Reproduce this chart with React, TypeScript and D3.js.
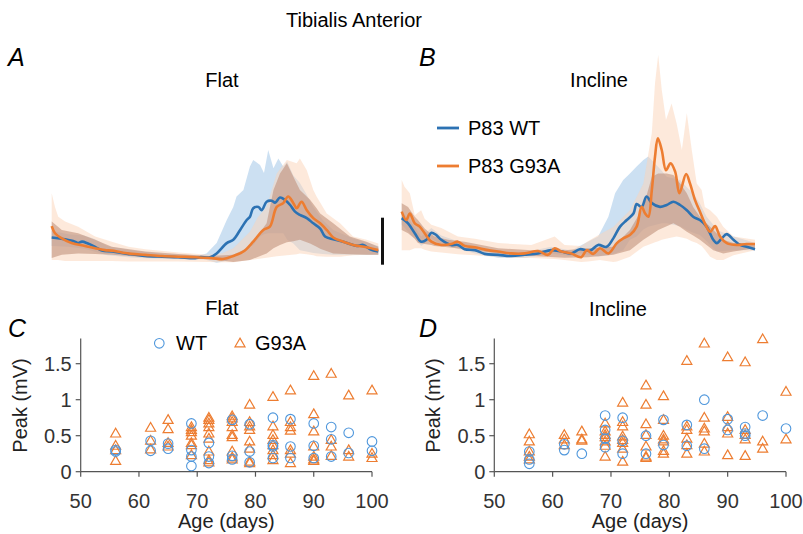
import React from "react";
import * as d3 from "d3";

type P = [number, number];
type B = [number, number, number];

// ---------- Top traces: [step-cycle %, amplitude (scale-bar units)] ----------
const flatWTMean: P[] = [
  [0, 0.48], [4.1, 0.44], [7.1, 0.39], [8, 0.36], [9.3, 0.39], [11.1, 0.35], [13.3, 0.28], [15.4, 0.2],
  [18.5, 0.18], [23.3, 0.13], [28.6, 0.085], [33.8, 0.07], [38.7, 0.06], [43.9, 0.04], [45.4, 0.06],
  [48.5, 0.06], [50.5, 0.14], [53.6, 0.36], [55.6, 0.43], [57.7, 0.64], [59.7, 0.85], [60.7, 0.92],
  [61.7, 1.1], [63.3, 1.13], [64.3, 1.06], [65.8, 1.24], [67.4, 1.26], [68.4, 1.22], [69.9, 1.33],
  [71.4, 1.28], [73, 1.17], [74.5, 1.03], [76, 0.96], [78.1, 0.89], [80.1, 0.78], [82.2, 0.67],
  [83.7, 0.5], [86.2, 0.44], [89.3, 0.39], [91.3, 0.34], [93.4, 0.3], [95.4, 0.32], [97.5, 0.23], [100, 0.18],
];
const flatG93AMean: P[] = [
  [0, 0.72], [1, 0.57], [3.1, 0.46], [6.1, 0.36], [10.2, 0.3], [13.3, 0.25], [16.3, 0.21], [18.4, 0.2],
  [21.4, 0.16], [24.5, 0.13], [28.6, 0.11], [33.7, 0.085], [38.8, 0.07], [43.9, 0.06], [49, 0.04],
  [52.5, 0.02], [55.6, 0.085], [58.7, 0.18], [61.7, 0.39], [64.8, 0.64], [66.8, 0.71], [68.9, 1.13],
  [70.9, 1.21], [72.4, 1.35], [74, 1.21], [75, 1.1], [76.5, 1.24], [78.1, 1.06], [80.1, 0.89],
  [82.2, 0.78], [84.2, 0.64], [86.2, 0.48], [89.3, 0.39], [92.3, 0.32], [96.4, 0.27], [100, 0.21],
];
const flatWTBand: B[] = [
  [0, 0.3, 0.62], [5, 0.28, 0.55], [10, 0.24, 0.52], [13, 0.18, 0.45], [17, 0.1, 0.3], [25, 0.05, 0.2],
  [35, 0.02, 0.12], [45.4, 0.01, 0.1], [47.4, 0, 0.14], [50.5, -0.06, 0.36], [53.6, -0.02, 0.85],
  [55.6, 0.07, 1.13], [56.6, 0.1, 1.35], [58.7, 0.18, 1.49], [60.7, 0.28, 1.99], [61.7, 0.32, 2.13],
  [63.8, 0.5, 2.02], [65, 0.55, 1.85], [66.3, 0.57, 2.34], [67.9, 0.57, 1.95], [69.4, 0.57, 2.16],
  [70.9, 0.57, 1.99], [72.1, 0.43, 2.09], [74, 0.35, 1.8], [76, 0.21, 1.64], [78, 0.18, 1.4],
  [80.1, 0.15, 1.13], [83, 0.13, 0.85], [86.2, 0.11, 0.64], [92.3, 0.11, 0.46], [100, 0.11, 0.3],
];
const flatG93AOuter: B[] = [
  [0, 0, 1.42], [1, 0, 1.13], [2, 0, 0.92], [4.1, -0.02, 0.82], [8.1, -0.02, 0.71], [13.3, -0.02, 0.5],
  [18.4, -0.02, 0.39], [23.5, -0.03, 0.28], [28.6, -0.03, 0.23], [38.8, -0.03, 0.16], [48, -0.04, 0.11],
  [52, -0.05, 0.14], [55.6, -0.05, 0.25], [60.7, 0, 0.6], [63, 0.02, 0.9], [65.8, 0.05, 1.13],
  [68.9, 0.08, 1.84], [72, 0.1, 2.13], [75, 0.12, 2.06], [76, 0.14, 2.16], [78.1, 0.12, 1.91],
  [80.1, 0.1, 1.49], [81.1, 0.08, 1.35], [84.2, 0.07, 0.99], [88.3, 0.07, 0.78], [92.3, 0.1, 0.5],
  [96.4, 0.11, 0.43], [100, 0.11, 0.35],
];
const flatG93AInner: B[] = [
  [0, 0.04, 0.82], [3.1, 0.11, 0.64], [8.1, 0.14, 0.57], [13.3, 0.13, 0.43], [18.4, 0.11, 0.28],
  [28.6, 0.06, 0.18], [38.8, 0.03, 0.13], [48, 0.02, 0.085], [55.6, -0.04, 0.11], [60.7, 0, 0.28],
  [65.8, 0.14, 0.78], [67.9, 0.25, 1.49], [69.9, 0.32, 1.84], [72, 0.38, 2.06], [74, 0.4, 1.77],
  [76, 0.43, 1.49], [79.1, 0.35, 1.28], [81.1, 0.28, 1.1], [82.2, 0.24, 0.99], [86.2, 0.14, 0.78],
  [91.3, 0.12, 0.5], [96.4, 0.11, 0.39], [100, 0.11, 0.28],
];

const inclineWTMean: P[] = [
  [0, 0.89], [1.8, 0.78], [3.7, 0.57], [5.5, 0.39], [7, 0.43], [8.4, 0.58], [9.8, 0.53], [11.2, 0.43],
  [14, 0.32], [15.9, 0.32], [17.8, 0.23], [20.7, 0.21], [23.5, 0.13], [27.3, 0.11], [31, 0.085],
  [34.8, 0.11], [38.6, 0.14], [42.3, 0.21], [45.2, 0.18], [48, 0.14], [50.4, 0.23], [53.3, 0.2],
  [55.6, 0.32], [58, 0.28], [59.9, 0.46], [61.8, 0.71], [63.7, 0.85], [65.6, 0.99], [66.5, 1.19],
  [67.9, 1.13], [69.3, 1.35], [70.8, 1.21], [73.1, 1.13], [75, 1.17], [76.9, 1.24], [78.8, 1.17],
  [80.7, 1.06], [82.5, 0.92], [84.4, 0.85], [86.3, 0.71], [88.2, 0.43], [89.2, 0.36], [90.6, 0.46],
  [92, 0.55], [93.9, 0.43], [95.8, 0.32], [97.6, 0.28], [100, 0.23],
];
const inclineG93AMean: P[] = [
  [0, 1.03], [1.3, 0.85], [2.3, 0.99], [3.7, 0.78], [5.1, 0.71], [6.5, 0.57], [8.4, 0.39], [11.2, 0.32],
  [14, 0.34], [15.9, 0.39], [17.8, 0.3], [20.7, 0.27], [24.4, 0.21], [27.3, 0.18], [31, 0.14],
  [34.8, 0.14], [38.6, 0.19], [41.4, 0.11], [43.3, 0.25], [45.2, 0.18], [48, 0.14], [50.8, 0.06],
  [52.4, 0.21], [54.2, 0.13], [56.1, 0.25], [58.5, 0.14], [60.9, 0.36], [62.7, 0.46], [64.6, 0.53],
  [66.5, 0.71], [67.9, 1.13], [68.9, 0.99], [69.8, 0.92], [70.8, 1.49], [71.7, 2.2], [72.5, 2.59],
  [73.6, 2.34], [74.8, 1.91], [76.1, 2.06], [77.4, 1.88], [78.6, 1.42], [80.5, 1.83], [81.6, 1.63],
  [83, 1.28], [84.4, 1.03], [85.8, 0.78], [87.3, 0.6], [88.7, 0.72], [90.1, 0.5], [92, 0.36],
  [94.8, 0.32], [97.6, 0.34], [100, 0.34],
];
const inclineWTBand: B[] = [
  [0, 0.75, 1.05], [3.7, 0.45, 0.7], [5.5, 0.3, 0.5], [8.4, 0.45, 0.68], [11.2, 0.33, 0.52],
  [15.9, 0.24, 0.4], [20.7, 0.14, 0.28], [27.3, 0.05, 0.17], [35, 0.05, 0.17], [42.3, 0.14, 0.28],
  [48, 0.08, 0.2], [50.4, 0.15, 0.3], [55.6, 0.07, 0.5], [58.5, 0.1, 0.92], [60.4, 0.14, 1.42],
  [62.7, 0.21, 1.7], [64.6, 0.43, 1.84], [66.5, 0.5, 1.99], [68.4, 0.65, 2.13], [69.8, 0.71, 2.2],
  [73.6, 0.78, 1.9], [75, 0.78, 1.77], [78.8, 0.72, 1.7], [80.7, 0.64, 1.55], [82.5, 0.58, 1.42],
  [84.4, 0.53, 1.2], [86.3, 0.4, 0.92], [88.2, 0.25, 0.75], [89.2, 0.18, 0.64], [93.9, 0.21, 0.5],
  [97.6, 0.21, 0.42], [100, 0.21, 0.36],
];
const inclineG93AOuter: B[] = [
  [0, 0.21, 1.7], [0.8, 0.21, 1.56], [2.3, 0.21, 1.42], [3.7, 0.25, 0.95], [5.5, 0.25, 1.06],
  [6.5, 0.22, 0.88], [8.4, 0.18, 0.75], [11.2, 0.16, 0.68], [15.9, 0.12, 0.5], [20.7, 0.1, 0.45],
  [27.3, 0.06, 0.36], [36.7, 0.04, 0.32], [43.3, 0.02, 0.5], [46.1, 0, 0.32], [50.8, -0.04, 0.3],
  [52.7, -0.03, 0.4], [56.1, 0, 0.55], [59.9, -0.04, 0.7], [60.9, -0.03, 0.78], [64.6, 0.07, 1.06],
  [68.4, 0.28, 1.63], [70.8, 0.35, 2.7], [71.7, 0.38, 3.76], [72.6, 0.4, 4.36], [73.6, 0.43, 3.62],
  [74.8, 0.45, 2.98], [76.4, 0.48, 3.33], [77.8, 0.5, 2.91], [79.3, 0.48, 2.34], [80.7, 0.45, 3.12],
  [82.1, 0.4, 2.34], [83.5, 0.36, 1.63], [84.9, 0.3, 1.49], [85.8, 0.22, 1.13], [87.3, 0.07, 1.06],
  [89.2, 0, 0.92], [91, 0, 0.71], [93.9, 0.1, 0.5], [100, 0.21, 0.43],
];
const inclineG93AInner: B[] = [
  [0, 0.64, 1.21], [1.8, 0.57, 1.13], [3.7, 0.45, 0.92], [4.6, 0.36, 0.85], [6.5, 0.34, 0.67],
  [8.4, 0.32, 0.55], [9.3, 0.3, 0.5], [13.1, 0.27, 0.43], [17.8, 0.23, 0.39], [27.3, 0.14, 0.25],
  [36.7, 0.085, 0.21], [46.1, 0.05, 0.21], [52.7, 0.06, 0.25], [59.9, 0.11, 0.28], [64.6, 0.21, 0.64],
  [68.4, 0.43, 1.13], [70.8, 0.55, 1.77], [72.6, 0.64, 1.84], [75, 0.72, 1.84], [76.9, 0.78, 1.81],
  [78.8, 0.7, 1.63], [80.7, 0.6, 1.42], [82.5, 0.52, 1.13], [84.4, 0.43, 0.92], [86.3, 0.32, 0.78],
  [88.2, 0.21, 0.64], [91, 0.14, 0.43], [93.9, 0.18, 0.36], [100, 0.25, 0.36],
];
const scaleBar: [number, number] = [-0.1, 0.9];

// ---------- Scatter: [age (days), peak (mV)] ----------
const flatWT: P[] = [
  [56, 0.3], [56, 0.28], [62, 0.43], [62, 0.29], [65, 0.39], [65, 0.32],
  [69, 0.67], [69, 0.3], [69, 0.21], [69, 0.08], [72, 0.4], [72, 0.21], [72, 0.12],
  [76, 0.72], [76, 0.22], [76, 0.17], [79, 0.66], [79, 0.28], [79, 0.13],
  [83, 0.75], [83, 0.37], [83, 0.35], [83, 0.19], [86, 0.73], [86, 0.35], [86, 0.19],
  [90, 0.67], [90, 0.36], [90, 0.19], [93, 0.62], [93, 0.45], [93, 0.21],
  [96, 0.54], [96, 0.26], [100, 0.42], [100, 0.29],
];
const flatG93A: P[] = [
  [56, 0.53], [56, 0.36], [56, 0.3], [56, 0.15], [62, 0.61], [62, 0.43], [62, 0.31],
  [65, 0.72], [65, 0.59], [65, 0.4], [65, 0.35],
  [69, 0.62], [69, 0.58], [69, 0.55], [69, 0.5], [69, 0.4], [69, 0.37], [69, 0.23],
  [72, 0.75], [72, 0.72], [72, 0.67], [72, 0.62], [72, 0.53], [72, 0.46], [72, 0.28], [72, 0.16], [72, 0.13],
  [76, 0.77], [76, 0.74], [76, 0.69], [76, 0.62], [76, 0.51], [76, 0.48], [76, 0.28], [76, 0.2], [76, 0.17],
  [79, 0.93], [79, 0.69], [79, 0.63], [79, 0.58], [79, 0.42], [79, 0.32], [79, 0.14], [79, 0.12],
  [83, 1.04], [83, 0.63], [83, 0.51], [83, 0.44], [83, 0.37], [83, 0.3], [83, 0.23], [83, 0.16],
  [86, 1.13], [86, 0.69], [86, 0.62], [86, 0.57], [86, 0.3], [86, 0.25], [86, 0.12],
  [90, 1.33], [90, 0.8], [90, 0.56], [90, 0.35], [90, 0.21], [90, 0.17], [90, 0.15],
  [93, 1.36], [93, 0.44], [93, 0.35], [93, 0.22], [96, 1.06], [96, 0.3], [96, 0.21],
  [100, 1.13], [100, 0.25], [100, 0.19],
];
const inclineWT: P[] = [
  [56, 0.28], [56, 0.17], [56, 0.11], [62, 0.38], [62, 0.3], [65, 0.25],
  [69, 0.78], [69, 0.58], [69, 0.46], [69, 0.34], [72, 0.75], [72, 0.43], [72, 0.25],
  [76, 0.5], [76, 0.25], [79, 0.72], [79, 0.37], [83, 0.65], [83, 0.36], [86, 1.0], [86, 0.32],
  [90, 0.73], [90, 0.58], [93, 0.62], [93, 0.53], [93, 0.5], [96, 0.78], [100, 0.6],
];
const inclineG93A: P[] = [
  [56, 0.52], [56, 0.42], [56, 0.28], [56, 0.21], [56, 0.17], [62, 0.51], [62, 0.45], [62, 0.37],
  [65, 0.56], [65, 0.45], [65, 0.43],
  [69, 0.67], [69, 0.56], [69, 0.51], [69, 0.48], [69, 0.42], [69, 0.36], [69, 0.21],
  [72, 0.96], [72, 0.69], [72, 0.63], [72, 0.49], [72, 0.44], [72, 0.4], [72, 0.32], [72, 0.14],
  [76, 1.2], [76, 0.93], [76, 0.66], [76, 0.51], [76, 0.35], [76, 0.21], [76, 0.19],
  [79, 1.05], [79, 0.72], [79, 0.5], [79, 0.45], [79, 0.42], [79, 0.29], [79, 0.25],
  [83, 1.54], [83, 0.63], [83, 0.58], [83, 0.46], [83, 0.37], [83, 0.25],
  [86, 1.78], [86, 0.75], [86, 0.6], [86, 0.56], [86, 0.39], [86, 0.28],
  [90, 1.59], [90, 0.76], [90, 0.62], [90, 0.53], [90, 0.23],
  [93, 1.52], [93, 0.58], [93, 0.51], [93, 0.45], [93, 0.22],
  [96, 1.84], [96, 0.42], [96, 0.32], [100, 1.11], [100, 0.45],
];
const xTicks = [50, 60, 70, 80, 90, 100];
const yTicks = [0, 0.5, 1, 1.5];

const BLUE = "#2c72b3";
const ORANGE = "#ed7d31";
const MK_BLUE = "#4f97dc";
const FONT = "'Liberation Sans', Arial, Helvetica, sans-serif";

function TracePanel({ x0, x1, wtMean, g93Mean, wtBand, outer, inner }: any) {
  const x = d3.scaleLinear().domain([0, 100]).range([x0, x1]);
  const y = d3.scaleLinear().domain([0, 1]).range([260, 213]);
  const area = d3.area<B>().x(d => x(d[0])).y0(d => y(d[1])).y1(d => y(d[2])).curve(d3.curveLinear);
  const line = d3.line<P>().x(d => x(d[0])).y(d => y(d[1])).curve(d3.curveCatmullRom.alpha(0.5));
  return (
    <g>
      <path d={area(wtBand) || ""} fill="#c3dbf0" opacity={0.85} />
      <path d={area(outer) || ""} fill="#fbd3b8" opacity={0.5} />
      <path d={area(inner) || ""} fill="#bf8f78" opacity={0.58} />
      <path d={line(wtMean) || ""} fill="none" stroke={BLUE} strokeWidth={2.6} strokeLinejoin="round" />
      <path d={line(g93Mean) || ""} fill="none" stroke={ORANGE} strokeWidth={2.6} strokeLinejoin="round" />
    </g>
  );
}

function Triangle({ cx, cy, s = 10 }: any) {
  const h = s * 0.87;
  return (
    <path
      d={`M${cx},${cy - h * 0.6}L${cx + s / 2},${cy + h * 0.4}L${cx - s / 2},${cy + h * 0.4}Z`}
      fill="none" stroke={ORANGE} strokeWidth={1.2}
    />
  );
}

function ScatterPanel({ x0, x1, wt, g93 }: any) {
  const x = d3.scaleLinear().domain([50, 100]).range([x0, x1]);
  const y = d3.scaleLinear().domain([0, 1.85]).range([471.7, 338.5]);
  const axisColor = "#555";
  return (
    <g fontFamily={FONT}>
      <line x1={x0} x2={x1} y1={y(0)} y2={y(0)} stroke={axisColor} strokeWidth={1.2} />
      <line x1={x0} x2={x0} y1={y(0)} y2={y(1.85)} stroke={axisColor} strokeWidth={1.2} />
      {xTicks.map(t => (
        <g key={"x" + t}>
          <line x1={x(t)} x2={x(t)} y1={y(0)} y2={y(0) + 5} stroke={axisColor} strokeWidth={1.2} />
          <text x={x(t)} y={508} textAnchor="middle" fontSize={20} fill="#333">{t}</text>
        </g>
      ))}
      {yTicks.map(t => (
        <g key={"y" + t}>
          <line x1={x0 - 5} x2={x0} y1={y(t)} y2={y(t)} stroke={axisColor} strokeWidth={1.2} />
          <text x={x0 - 9} y={y(t) + 7} textAnchor="end" fontSize={20} fill="#333">{t}</text>
        </g>
      ))}
      {g93.map((d: P, i: number) => <Triangle key={"t" + i} cx={x(d[0])} cy={y(d[1])} />)}
      {wt.map((d: P, i: number) => (
        <circle key={"c" + i} cx={x(d[0])} cy={y(d[1])} r={4.8} fill="none" stroke={MK_BLUE} strokeWidth={1.1} />
      ))}
      <text x={(x0 + x1) / 2} y={528} textAnchor="middle" fontSize={20} fill="#222">Age (days)</text>
      <text transform={`translate(${x0 - 54},${y(0.92)}) rotate(-90)`} textAnchor="middle" fontSize={20} fill="#222">Peak (mV)</text>
    </g>
  );
}

export default function App() {
  return (
    <svg width={803} height={534} style={{ position: "absolute", left: 0, top: 0, background: "#fff" }} fontFamily={FONT}>
      <text x={354} y={27} textAnchor="middle" fontSize={20}>Tibialis Anterior</text>
      <text x={8} y={66} fontSize={25} fontStyle="italic">A</text>
      <text x={419} y={66} fontSize={25} fontStyle="italic">B</text>
      <text x={222} y={87} textAnchor="middle" fontSize={20}>Flat</text>
      <text x={599} y={87} textAnchor="middle" fontSize={20}>Incline</text>

      <TracePanel x0={51.7} x1={378.3} wtMean={flatWTMean} g93Mean={flatG93AMean}
        wtBand={flatWTBand} outer={flatG93AOuter} inner={flatG93AInner} />
      <TracePanel x0={401.7} x1={755} wtMean={inclineWTMean} g93Mean={inclineG93AMean}
        wtBand={inclineWTBand} outer={inclineG93AOuter} inner={inclineG93AInner} />
      <line x1={382.5} x2={382.5} y1={260 - scaleBar[0] * 47} y2={260 - scaleBar[1] * 47} stroke="#111" strokeWidth={3} />

      <line x1={437} x2={459} y1={128} y2={128} stroke={BLUE} strokeWidth={2.8} />
      <text x={468} y={135} fontSize={20}>P83 WT</text>
      <line x1={437} x2={459} y1={166} y2={166} stroke={ORANGE} strokeWidth={2.8} />
      <text x={468} y={173} fontSize={20}>P83 G93A</text>

      <text x={8} y={337} fontSize={25} fontStyle="italic">C</text>
      <text x={419} y={337} fontSize={25} fontStyle="italic">D</text>
      <text x={222} y={315} textAnchor="middle" fontSize={20}>Flat</text>
      <text x={618} y={316} textAnchor="middle" fontSize={20}>Incline</text>

      <ScatterPanel x0={80.7} x1={372} wt={flatWT} g93={flatG93A} />
      <ScatterPanel x0={494.3} x1={786} wt={inclineWT} g93={inclineG93A} />

      <circle cx={159.3} cy={343.3} r={4.8} fill="none" stroke={MK_BLUE} strokeWidth={1.1} />
      <text x={176} y={350} fontSize={20}>WT</text>
      <Triangle cx={240} cy={343.3} />
      <text x={255} y={350} fontSize={20}>G93A</text>
    </svg>
  );
}
